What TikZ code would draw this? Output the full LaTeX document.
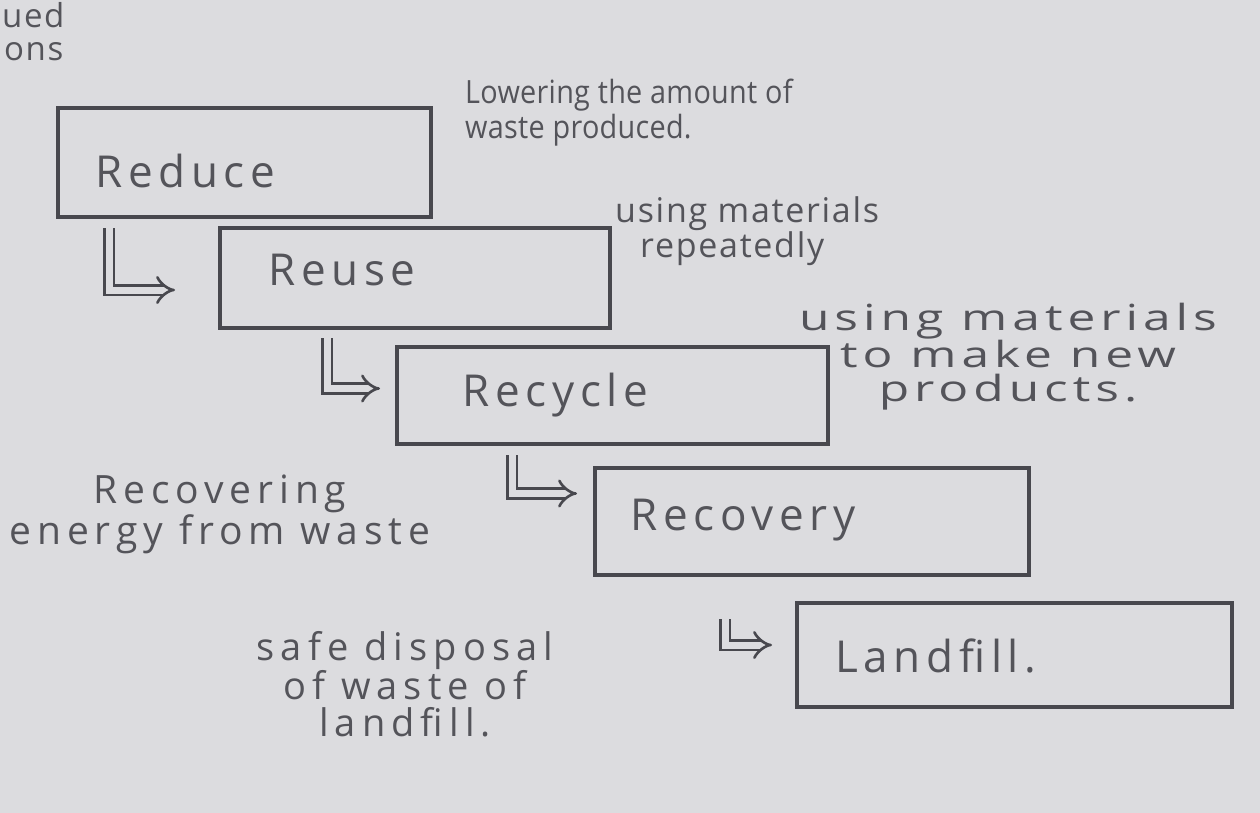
\documentclass[tikz,border=0pt]{standalone}
\usepackage{fontspec}
\setmainfont{Open Sans}
\newfontfamily\hand[LetterSpace=13]{Open Sans}
\newfontfamily\handA[LetterSpace=1]{Open Sans}
\newfontfamily\handB[LetterSpace=5]{Open Sans}
\newfontfamily\handC[LetterSpace=10]{Open Sans}
\newfontfamily\handD[LetterSpace=15]{Open Sans}
\newfontfamily\handE[LetterSpace=16]{Open Sans}
\newcommand\mywide[1]{\scalebox{1.38}[1]{#1}}
\newcommand\mynarrow[1]{\scalebox{0.9}[1]{#1}}
\usetikzlibrary{arrows.meta,calc}
\definecolor{bg}{RGB}{220,220,223}
\definecolor{ink}{RGB}{84,84,90}
\definecolor{pen}{RGB}{72,72,78}
\tikzset{
  box/.style={draw=pen, line width=3.2pt, rectangle, inner sep=0pt, outer sep=0pt},
  lbl/.style={text=ink, font=\hand\fontsize{44}{44}\selectfont, inner sep=0pt, anchor=base west},
  note/.style={text=ink, inner sep=0pt},
  arr/.style={draw=pen, line width=2.6pt, double=bg, double distance=7pt, -{Implies}}
}
\begin{document}
\begin{tikzpicture}[x=1pt,y=-1pt]
\fill[bg] (0,0) rectangle (1260,813);
\useasboundingbox (0,0) rectangle (1260,813);
% boxes
\node[box, minimum width=373pt, minimum height=109pt] (reduce) at (244.5,162.5) {};
\node[box, minimum width=390pt, minimum height=100pt] (reuse) at (415,278) {};
\node[box, minimum width=431pt, minimum height=97pt] (recycle) at (612.5,395.5) {};
\node[box, minimum width=434pt, minimum height=107pt] (recovery) at (812,521.5) {};
\node[box, minimum width=435pt, minimum height=104pt] (landfill) at (1014.5,655) {};
% box labels
\node[lbl] (treduce) at (95,187) {Reduce};
\node[lbl] (treuse) at (268,285) {Reuse};
\node[lbl] (trecycle) at (462,406) {Recycle};
\node[lbl] (trecovery) at (630,530) {Recovery};
\node[lbl] (tlandfill) at (835,672) {Landfill.};
% arrows
\draw[arr] ($(reduce.south west)+(51,11)$) |- ($(reuse.west)+(-45,12)$);
\draw[arr] ($(reuse.south west)+(107,10)$) |- ($(recycle.west)+(-17,-7)$);
\draw[arr] ($(recycle.south west)+(115,11)$) |- ($(recovery.west)+(-18,-28)$);
\draw[arr] ($(recovery.south west)+(130,44)$) |- ($(landfill.west)+(-25,-10)$);
% notes
\node[note, font=\handB\fontsize{33}{33}\selectfont, anchor=base west] (frag1) at (2,28) {ued};
\node[note, font=\handB\fontsize{33}{33}\selectfont, anchor=base west] (frag2) at (4,61) {ons};
\node[note, font=\handA\fontsize{32}{35}\selectfont, anchor=north west, align=left] (n1) at (465,79) {\mynarrow{Lowering the amount of}\\\mynarrow{waste produced.}};
\node[note, font=\handB\fontsize{34}{32}\selectfont, anchor=north west, align=left] (n2) at (615,196) {using materials\\\hspace*{25pt}repeatedly};
\node[note, font=\handC\fontsize{36}{34}\selectfont, anchor=north, align=center] (n3) at (1008,303) {\mywide{using materials}\\\mywide{to make new}\\\mywide{products.}};
\node[note, font=\handD\fontsize{39}{38}\selectfont, anchor=north, align=center] (n4) at (220,475) {Recovering\\energy from waste};
\node[note, font=\handE\fontsize{38}{37}\selectfont, anchor=north, align=center] (n5) at (405,631) {safe disposal\\of waste of\\landfill.};
\end{tikzpicture}
\end{document}
